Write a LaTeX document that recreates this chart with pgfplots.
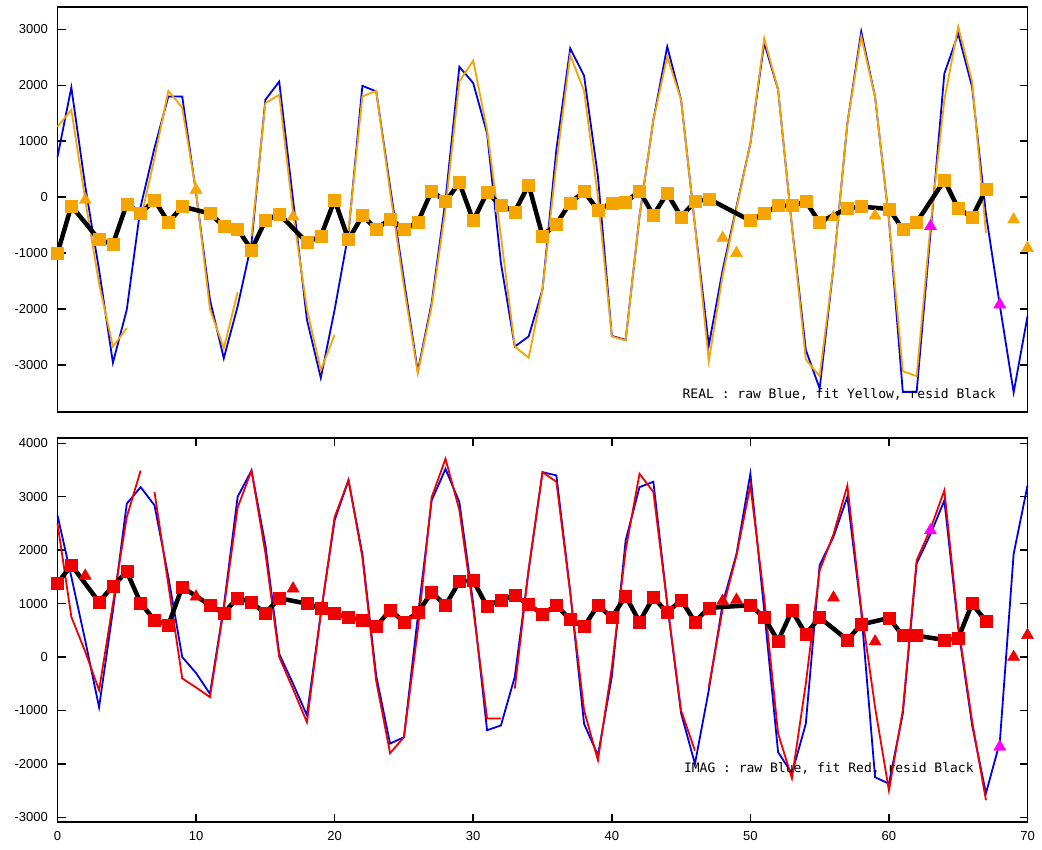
\documentclass[border=0pt]{standalone}
\usepackage{fontspec}
\setmainfont{Liberation Sans}
\newfontfamily\labelmono{DejaVu Sans Mono}
\usepackage{pgfplots}
\pgfplotsset{compat=1.18}

\definecolor{rawblue}{RGB}{0,0,230}
\definecolor{fitorange}{RGB}{245,165,0}
\definecolor{fitred}{RGB}{240,0,0}
\definecolor{flagmag}{RGB}{255,0,255}

\pgfplotsset{
  panel/.style={
    scale only axis, width=970pt, clip=false,
    xmin=0, xmax=70,
    axis line style={line width=1.8pt},
    every tick/.style={black, line width=1.5pt},
    major tick length=8pt,
    tick align=inside,
    ticklabel style={font=\fontsize{13}{15}\selectfont},
    yticklabel style={inner sep=0pt, xshift=-9.5pt},
    xticklabel style={inner sep=0pt, yshift=-10pt},
    scaled ticks=false,
    /pgf/number format/assume math mode=true,
    /pgf/number format/set thousands separator={},
    unbounded coords=jump,
  },
  raw/.style={rawblue, line width=1.8pt, no marks},
  fit/.style={line width=1.8pt, no marks},
  resid/.style={black, line width=4.5pt, no marks},
  sq/.style={only marks, mark=square*, mark size=6pt},
  tri/.style={only marks, mark=triangle*, mark size=7pt},
}

\begin{document}
\begin{tikzpicture}
\path[use as bounding box] (0,0) rectangle (1042pt,-850pt);

% ---------- real part ----------
\begin{axis}[panel, at={(57.5pt,-412.3pt)}, anchor=south west,
  height=405.6pt, ymin=-3845, ymax=3404,
  xtick=\empty, ytick={-3000,-2000,...,3000}]
\addplot[raw] coordinates {
(0,720)(1,1960)(2,200)(3,-1300)(4,-2960)(5,-2010)(6,-170)(7,880)(8,1800)(9,1800)
(10,70)(11,-1830)(12,-2880)(13,-1950)(14,-820)(15,1740)(16,2065)(17,-50)(18,-2190)(19,-3230)
(20,-2010)(21,-640)(22,1990)(23,1890)(24,190)(25,-1480)(26,-3110)(27,-1890)(28,-50)(29,2330)
(30,2040)(31,1140)(32,-1180)(33,-2670)(34,-2490)(35,-1650)(36,850)(37,2660)(38,2170)(39,370)
(40,-2480)(41,-2550)(42,-345)(43,1380)(44,2690)(45,1740)(46,-500)(47,-2650)(48,-1300)(49,-170)
(50,960)(51,2760)(52,1920)(53,-520)(54,-2730)(55,-3420)(56,-1240)(57,1320)(58,2960)(59,1790)
(60,-400)(61,-3480)(62,-3480)(63,-640)(64,2210)(65,2920)(66,1970)(67,-300)(68,-1930)(69,-3490)
(70,-2130)};
\addplot[fit, fitorange] coordinates {
(0,1260)(1,1560)(2,-50)(3,-1550)(4,-2670)(5,-2340)(5.5,nan)(6,-400)(7,700)(8,1900)(9,1600)
(10,100)(11,-2000)(12,-2700)(13,-1700)(13.5,nan)(14,-700)(15,1680)(16,1830)(17,-290)(18,-2000)(19,-3090)
(20,-2460)(20.5,nan)(21,-600)(22,1800)(23,1900)(24,100)(25,-1600)(26,-3150)(27,-1950)(28,-200)(29,2070)
(30,2440)(31,1200)(32,-700)(33,-2670)(34,-2870)(35,-1650)(36,600)(37,2540)(38,1900)(39,0)
(40,-2490)(41,-2560)(42,-345)(43,1380)(44,2510)(45,1740)(46,-500)(47,-2930)(48,-1400)(49,-200)
(50,960)(51,2840)(52,1920)(53,-520)(54,-2900)(55,-3200)(56,-1240)(57,1320)(58,2870)(59,1790)
(60,-400)(61,-3110)(62,-3200)(63,-500)(64,1740)(65,3050)(66,2070)(67,-640)};
\addplot[resid] coordinates {
(0,-1000)(1,-155)(3,-760)(4,-840)(5,-120)(6,-290)(7,-50)(8,-450)(9,-170)
(11,-290)(12,-520)(13,-570)(14,-940)(15,-420)(16,-300)(18,-810)(19,-700)
(20,-50)(21,-760)(22,-330)(23,-570)(24,-390)(25,-570)(26,-450)(27,110)(28,-80)(29,260)
(30,-420)(31,80)(32,-140)(33,-260)(34,220)(35,-690)(36,-480)(37,-100)(38,100)(39,-230)
(40,-100)(41,-90)(42,110)(43,-320)(44,70)(45,-350)(46,-80)(47,-30)
(50,-420)(51,-290)(52,-150)(53,-150)(54,-80)(55,-450)(57,-200)(58,-170)
(60,-210)(61,-570)(62,-450)(64,300)(65,-200)(66,-360)(67,140)};
\addplot[sq, fitorange] coordinates {
(0,-1000)(1,-155)(3,-760)(4,-840)(5,-120)(6,-290)(7,-50)(8,-450)(9,-170)
(11,-290)(12,-520)(13,-570)(14,-940)(15,-420)(16,-300)(18,-810)(19,-700)
(20,-50)(21,-760)(22,-330)(23,-570)(24,-390)(25,-570)(26,-450)(27,110)(28,-80)(29,260)
(30,-420)(31,80)(32,-140)(33,-260)(34,220)(35,-690)(36,-480)(37,-100)(38,100)(39,-230)
(40,-100)(41,-90)(42,110)(43,-320)(44,70)(45,-350)(46,-80)(47,-30)
(50,-420)(51,-290)(52,-150)(53,-150)(54,-80)(55,-450)(57,-200)(58,-170)
(60,-210)(61,-570)(62,-450)(64,300)(65,-200)(66,-360)(67,140)};
\addplot[tri, fitorange] coordinates {
(2,-50)(10,130)(17,-350)(48,-730)(49,-1000)(56,-360)(59,-330)(69,-400)(70,-910)};
\addplot[tri, flagmag] coordinates {(63,-520)(68,-1920)};
\node[anchor=west, inner sep=0pt, font=\labelmono\fontsize{13}{15}\selectfont]
  at (axis cs:45.1,-3533) {REAL : raw Blue, fit Yellow, resid Black};
\end{axis}

% ---------- imaginary part ----------
\begin{axis}[panel, at={(57.5pt,-821.7pt)}, anchor=south west,
  height=384pt, ymin=-3082, ymax=4105,
  xtick={0,10,...,70}, ytick={-3000,-2000,...,4000}]
\addplot[raw] coordinates {
(0,2650)(1,1500)(2,310)(3,-940)(4,870)(5,2870)(6,3180)(7,2840)(8,1500)(9,0)
(10,-300)(11,-690)(12,940)(13,3000)(14,3490)(15,2100)(16,60)(17,-500)(18,-1090)(19,810)
(20,2560)(21,3310)(22,1930)(23,-350)(24,-1620)(25,-1500)(26,750)(27,2930)(28,3520)(29,2900)
(30,1000)(31,-1370)(32,-1280)(33,-370)(34,1620)(35,3460)(36,3400)(37,1220)(38,-1250)(39,-1840)
(40,-370)(41,2180)(42,3180)(43,3280)(44,1000)(45,-1050)(46,-2000)(47,-620)(48,1000)(49,1930)
(50,3430)(51,870)(52,-1780)(53,-2180)(54,-1250)(55,1720)(56,2250)(57,3000)(58,850)(59,-2250)
(60,-2370)(61,-1060)(62,1750)(63,2300)(64,2930)(65,540)(66,-1270)(67,-2550)(68,-1600)(69,1930)
(70,3210)};
\addplot[fit, fitred] coordinates {
(0,2500)(1,750)(2,100)(3,-620)(4,1000)(5,2620)(6,3490)(6.5,nan)(7,3090)(8,1350)(9,-400)
(10,-570)(11,-750)(12,900)(13,2800)(14,3490)(15,1950)(16,0)(17,-600)(18,-1220)(19,800)
(20,2620)(21,3310)(22,1870)(23,-450)(24,-1800)(25,-1500)(26,500)(27,2990)(28,3710)(29,2750)
(30,900)(31,-1150)(32,-1150)(32.5,nan)(33,-590)(34,1650)(35,3460)(36,3280)(37,1200)(38,-1000)(39,-1930)
(40,-200)(41,2000)(42,3430)(43,3090)(44,1000)(45,-1000)(46,-1750)(46.5,nan)(47,-560)(48,900)(49,1900)
(50,3210)(51,1100)(52,-1430)(53,-2270)(54,-500)(55,1620)(56,2300)(57,3210)(58,900)(59,-940)
(60,-2500)(61,-1000)(62,1810)(63,2400)(64,3120)(65,600)(66,-1200)(67,-2680)};
\addplot[resid] coordinates {
(0,1380)(1,1720)(3,1030)(4,1330)(5,1600)(6,1010)(7,690)(8,600)(9,1310)
(11,970)(12,820)(13,1110)(14,1020)(15,820)(16,1100)(18,1000)(19,910)
(20,820)(21,740)(22,690)(23,570)(24,880)(25,660)(26,830)(27,1210)(28,970)(29,1410)
(30,1430)(31,950)(32,1070)(33,1150)(34,980)(35,800)(36,970)(37,700)(38,570)(39,970)
(40,740)(41,1140)(42,660)(43,1120)(44,830)(45,1070)(46,660)(47,920)
(50,970)(51,740)(52,300)(53,870)(54,430)(55,740)(57,320)(58,610)
(60,730)(61,400)(62,400)(64,320)(65,350)(66,1000)(67,670)};
\addplot[sq, fitred] coordinates {
(0,1380)(1,1720)(3,1030)(4,1330)(5,1600)(6,1010)(7,690)(8,600)(9,1310)
(11,970)(12,820)(13,1110)(14,1020)(15,820)(16,1100)(18,1000)(19,910)
(20,820)(21,740)(22,690)(23,570)(24,880)(25,660)(26,830)(27,1210)(28,970)(29,1410)
(30,1430)(31,950)(32,1070)(33,1150)(34,980)(35,800)(36,970)(37,700)(38,570)(39,970)
(40,740)(41,1140)(42,660)(43,1120)(44,830)(45,1070)(46,660)(47,920)
(50,970)(51,740)(52,300)(53,870)(54,430)(55,740)(57,320)(58,610)
(60,730)(61,400)(62,400)(64,320)(65,350)(66,1000)(67,670)};
\addplot[tri, fitred] coordinates {
(2,1520)(10,1130)(17,1280)(48,1050)(49,1070)(56,1110)(59,290)(69,0)(70,410)};
\addplot[tri, flagmag] coordinates {(63,2370)(68,-1680)};
\node[anchor=west, inner sep=0pt, font=\labelmono\fontsize{13}{15}\selectfont]
  at (axis cs:45.2,-2077) {IMAG : raw Blue, fit Red, resid Black};
\end{axis}
\end{tikzpicture}
\end{document}
